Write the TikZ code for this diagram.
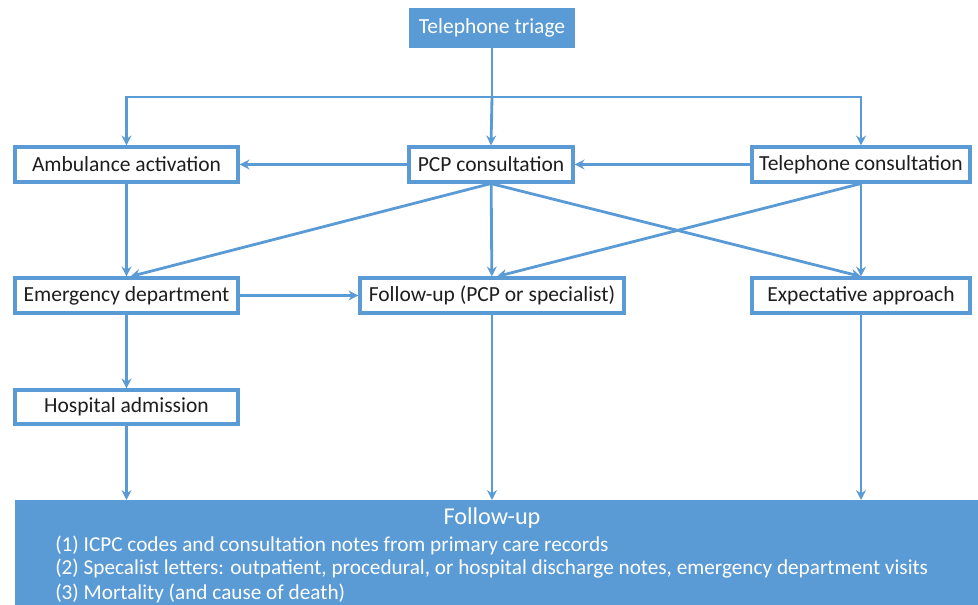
\documentclass[tikz,border=0pt]{standalone}
\usepackage{fontspec}
\setmainfont{Carlito}
\usetikzlibrary{arrows.meta}
\definecolor{boxblue}{RGB}{91,155,213}
\definecolor{inkgray}{RGB}{30,30,30}
\tikzset{>={Stealth[length=7pt,width=7pt]}}
\tikzset{
  stage/.style={draw=boxblue, line width=2.2pt, fill=white, text=inkgray,
    minimum height=0.875cm, inner sep=2pt, font=\fontsize{15.3}{17}\selectfont},
  flow/.style={->, draw=boxblue, line width=2pt},
  note/.style={text=white, inner sep=0pt, anchor=west, font=\fontsize{15.1}{17}\selectfont}
}
\begin{document}
\begin{tikzpicture}[x=0.025cm,y=-0.025cm]
    \useasboundingbox (0,0) rectangle (978,604);
    \node[stage, fill=boxblue, text=white, minimum width=4.075cm, minimum height=0.9cm](tri) at (492,28) {Telephone triage};
    \node[stage, minimum width=5.575cm](amb) at (126.5,164.5) {Ambulance activation};
    \node[stage, minimum width=4.1cm](pcp) at (491,164.5) {PCP consultation};
    \node[stage, minimum width=5.45cm](tel) at (861,164.5) {Telephone consultation};
    \node[stage, minimum width=5.575cm](ed) at (126.5,295.5) {Emergency department};
    \node[stage, minimum width=6.6cm](fu) at (492,295.5) {Follow-up (PCP or specialist)};
    \node[stage, minimum width=5.45cm](exp) at (861,295.5) {Expectative approach};
    \node[stage, minimum width=5.575cm, minimum height=0.85cm](hosp) at (126.5,407) {Hospital admission};
    % follow-up sources
    \node[fill=boxblue, draw=none, anchor=north west, minimum width=24.05cm, minimum height=2.75cm](src) at (15,500) {};
    \node[text=white, inner sep=0pt, font=\fontsize{17.2}{19}\selectfont](srctitle) at (492,518) {Follow-up};
    \node[note](src1) at (55,545) {(1) ICPC codes and consultation notes from primary care records};
    \node[note](src2) at (55,569) {(2) Specalist letters: outpatient, procedural, or hospital discharge notes, emergency department visits};
    \node[note](src3) at (55,593) {(3) Mortality (and cause of death)};
    % triage split
    \coordinate (split) at (492,97);
    \draw[boxblue, line width=2pt] (tri.south) -- (split);
    \draw[flow] (split) -| (amb.north);
    \draw[flow] (split) -- (pcp.north);
    \draw[flow] (split) -| (tel.north);
    \draw[flow] (pcp) -- (amb);
    \draw[flow] (tel) -- (pcp);
    \draw[flow] (amb) -- (ed);
    \draw[flow] (pcp.south) -- ([xshift=0.1cm]ed.north);
    \draw[flow] (pcp) -- (fu);
    \draw[flow] (pcp.south) -- (exp.north);
    \draw[flow] (tel.south) -- ([xshift=0.125cm]fu.north);
    \draw[flow] (tel) -- (exp);
    \draw[flow] (ed) -- (fu);
    \draw[flow] (ed) -- (hosp);
    \draw[flow] (hosp.south) -- (hosp.south |- src.north);
    \draw[flow] (fu.south) -- (fu.south |- src.north);
    \draw[flow] (exp.south) -- (exp.south |- src.north);
\end{tikzpicture}
\end{document}
